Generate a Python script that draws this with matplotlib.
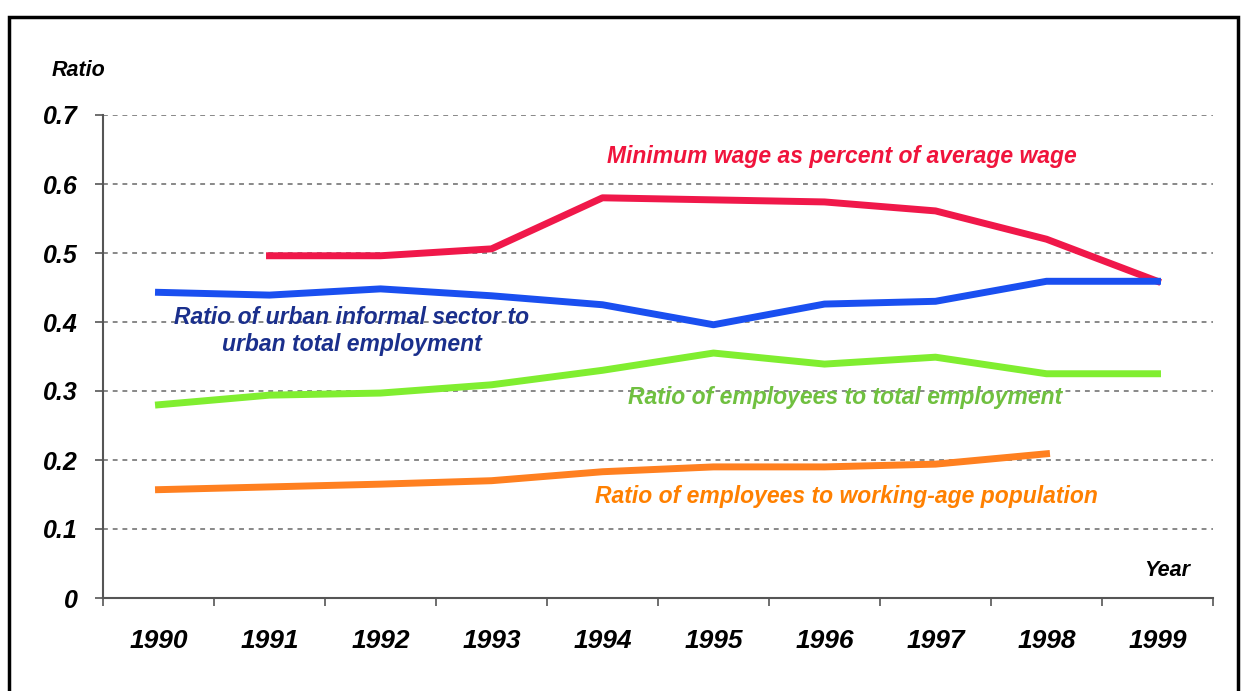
from matplotlib import pyplot as plt
from matplotlib.patches import Rectangle
import numpy as np

plt.rcParams['font.family'] = ['Liberation Sans', 'DejaVu Sans']

years = ['1990', '1991', '1992', '1993', '1994', '1995', '1996', '1997', '1998', '1999']
min_wage = [np.nan, 0.496, 0.496, 0.506, 0.580, 0.577, 0.574, 0.561, 0.520, 0.459]
informal = [0.443, 0.439, 0.448, 0.438, 0.425, 0.396, 0.426, 0.430, 0.459, 0.459]
employees_total = [0.280, 0.294, 0.297, 0.309, 0.330, 0.355, 0.339, 0.349, 0.325, 0.325]
employees_pop = [0.157, 0.161, 0.165, 0.170, 0.183, 0.190, 0.190, 0.194, 0.209, np.nan]

fig = plt.figure(figsize=(12.42, 6.91), dpi=100)
ax = fig.add_axes([103/1242, 1-598/691, 1110/1242, 483/691])

# outer frame
fig.patches.append(Rectangle((9/1242, -0.05), 1229/1242, 1.05 - 17/691, transform=fig.transFigure,
                             fill=False, edgecolor='black', linewidth=2.5))

x = np.arange(len(years))
ax.plot(x, min_wage, color='#f0184a', linewidth=5, solid_joinstyle='round')
ax.plot(x, informal, color='#1a4ff0', linewidth=5, solid_joinstyle='round')
ax.plot(x, employees_total, color='#80ee30', linewidth=5, solid_joinstyle='round')
ax.plot(x, employees_pop, color='#ff8020', linewidth=5, solid_joinstyle='round')

ax.set_xlim(-0.5, 9.5)
ax.set_ylim(0, 0.7)
ax.set_yticks(np.arange(0, 0.71, 0.1))
ax.set_yticklabels(['0', '0.1', '0.2', '0.3', '0.4', '0.5', '0.6', '0.7'])
ax.set_xticks(x)
ax.set_xticklabels(years)
ax.set_xticks(np.arange(-0.5, 9.6, 1), minor=True)
ax.tick_params(axis='x', which='major', length=0, pad=22)
ax.tick_params(axis='x', which='minor', length=6, color='#555555', width=1.2)
ax.tick_params(axis='y', length=6, color='#555555', width=1.2, pad=12)
for lab in ax.get_xticklabels():
    lab.set_fontsize(19)
    lab.set_fontweight('bold')
    lab.set_fontstyle('italic')
for lab in ax.get_yticklabels():
    lab.set_fontsize(18)
    lab.set_fontweight('bold')
    lab.set_fontstyle('italic')

ax.grid(axis='y', color='#888888', linestyle=(0, (2.5, 2.5)), linewidth=1.4)
ax.set_axisbelow(True)
for s in ['top', 'right']:
    ax.spines[s].set_visible(False)
for s in ['left', 'bottom']:
    ax.spines[s].set_color('#555555')
    ax.spines[s].set_linewidth(1.5)

bi = dict(fontweight='bold', fontstyle='italic', fontsize=16.5)
fig.text(52/1242, 1-71/691, 'Ratio', ha='left', va='center', fontweight='bold', fontstyle='italic', fontsize=15.5)
fig.text(1190/1242, 1-570/691, 'Year', ha='right', va='center', fontweight='bold', fontstyle='italic', fontsize=15.5)

ax.text(6.16, 0.64, 'Minimum wage as percent of average wage', color='#f0143c', ha='center', va='center', **bi)
ax.text(1.74, 0.387, 'Ratio of urban informal sector to\nurban total employment', color='#1a2f8c',
        ha='center', va='center', linespacing=1.2, **bi)
ax.text(6.19, 0.29, 'Ratio of employees to total employment', color='#70c040', ha='center', va='center', **bi)
ax.text(6.2, 0.147, 'Ratio of employees to working-age population', color='#ff8000', ha='center', va='center', **bi)

plt.savefig('out.png', dpi=100)
